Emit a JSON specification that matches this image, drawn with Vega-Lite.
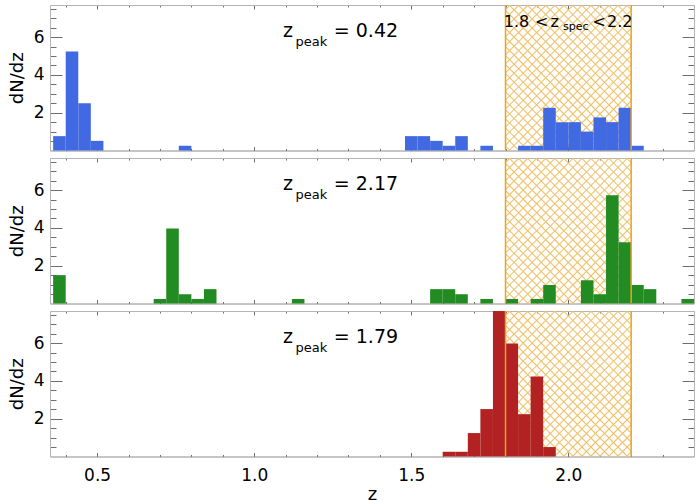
{
"$schema": "https://vega.github.io/schema/vega-lite/v6.json",
"padding": {"left": 8, "top": 4, "right": 5, "bottom": 0},
"background": "white",
"spacing": 7,
"bounds": "flush",
"config": {
 "view": {"stroke": null},
 "font": "DejaVu Sans",
 "axis": {"grid": false, "labelFont": "DejaVu Sans", "titleFont": "DejaVu Sans", "labelFontSize": 17, "titleFontSize": 18, "labelColor": "black", "titleColor": "black", "titleFontWeight": "normal", "domainColor": "#b4b4b4", "tickColor": "#6e6e6e", "labelFlush": false, "labelOverlap": false, "zindex": 1},
 "style": {
  "hatchA": {"color": {"gradient": "linear", "x1": 0, "y1": 0, "x2": 0.9219, "y2": 1.0675, "stops": [
{"offset":0.0112,"color":"#EFC06600"},{"offset":0.0167,"color":"#EFC066"},{"offset":0.0222,"color":"#EFC06600"},
{"offset":0.0445,"color":"#EFC06600"},{"offset":0.05,"color":"#EFC066"},{"offset":0.0555,"color":"#EFC06600"},
{"offset":0.0778,"color":"#EFC06600"},{"offset":0.0833,"color":"#EFC066"},{"offset":0.0888,"color":"#EFC06600"},
{"offset":0.1112,"color":"#EFC06600"},{"offset":0.1167,"color":"#EFC066"},{"offset":0.1222,"color":"#EFC06600"},
{"offset":0.1445,"color":"#EFC06600"},{"offset":0.15,"color":"#EFC066"},{"offset":0.1555,"color":"#EFC06600"},
{"offset":0.1778,"color":"#EFC06600"},{"offset":0.1833,"color":"#EFC066"},{"offset":0.1888,"color":"#EFC06600"},
{"offset":0.2112,"color":"#EFC06600"},{"offset":0.2167,"color":"#EFC066"},{"offset":0.2222,"color":"#EFC06600"},
{"offset":0.2445,"color":"#EFC06600"},{"offset":0.25,"color":"#EFC066"},{"offset":0.2555,"color":"#EFC06600"},
{"offset":0.2778,"color":"#EFC06600"},{"offset":0.2833,"color":"#EFC066"},{"offset":0.2888,"color":"#EFC06600"},
{"offset":0.3112,"color":"#EFC06600"},{"offset":0.3167,"color":"#EFC066"},{"offset":0.3222,"color":"#EFC06600"},
{"offset":0.3445,"color":"#EFC06600"},{"offset":0.35,"color":"#EFC066"},{"offset":0.3555,"color":"#EFC06600"},
{"offset":0.3778,"color":"#EFC06600"},{"offset":0.3833,"color":"#EFC066"},{"offset":0.3888,"color":"#EFC06600"},
{"offset":0.4112,"color":"#EFC06600"},{"offset":0.4167,"color":"#EFC066"},{"offset":0.4222,"color":"#EFC06600"},
{"offset":0.4445,"color":"#EFC06600"},{"offset":0.45,"color":"#EFC066"},{"offset":0.4555,"color":"#EFC06600"},
{"offset":0.4778,"color":"#EFC06600"},{"offset":0.4833,"color":"#EFC066"},{"offset":0.4888,"color":"#EFC06600"},
{"offset":0.5112,"color":"#EFC06600"},{"offset":0.5167,"color":"#EFC066"},{"offset":0.5222,"color":"#EFC06600"},
{"offset":0.5445,"color":"#EFC06600"},{"offset":0.55,"color":"#EFC066"},{"offset":0.5555,"color":"#EFC06600"},
{"offset":0.5778,"color":"#EFC06600"},{"offset":0.5833,"color":"#EFC066"},{"offset":0.5888,"color":"#EFC06600"},
{"offset":0.6112,"color":"#EFC06600"},{"offset":0.6167,"color":"#EFC066"},{"offset":0.6222,"color":"#EFC06600"},
{"offset":0.6445,"color":"#EFC06600"},{"offset":0.65,"color":"#EFC066"},{"offset":0.6555,"color":"#EFC06600"},
{"offset":0.6778,"color":"#EFC06600"},{"offset":0.6833,"color":"#EFC066"},{"offset":0.6888,"color":"#EFC06600"},
{"offset":0.7112,"color":"#EFC06600"},{"offset":0.7167,"color":"#EFC066"},{"offset":0.7222,"color":"#EFC06600"},
{"offset":0.7445,"color":"#EFC06600"},{"offset":0.75,"color":"#EFC066"},{"offset":0.7555,"color":"#EFC06600"},
{"offset":0.7778,"color":"#EFC06600"},{"offset":0.7833,"color":"#EFC066"},{"offset":0.7888,"color":"#EFC06600"},
{"offset":0.8112,"color":"#EFC06600"},{"offset":0.8167,"color":"#EFC066"},{"offset":0.8222,"color":"#EFC06600"},
{"offset":0.8445,"color":"#EFC06600"},{"offset":0.85,"color":"#EFC066"},{"offset":0.8555,"color":"#EFC06600"},
{"offset":0.8778,"color":"#EFC06600"},{"offset":0.8833,"color":"#EFC066"},{"offset":0.8888,"color":"#EFC06600"},
{"offset":0.9112,"color":"#EFC06600"},{"offset":0.9167,"color":"#EFC066"},{"offset":0.9222,"color":"#EFC06600"},
{"offset":0.9445,"color":"#EFC06600"},{"offset":0.95,"color":"#EFC066"},{"offset":0.9555,"color":"#EFC06600"},
{"offset":0.9778,"color":"#EFC06600"},{"offset":0.9833,"color":"#EFC066"},{"offset":0.9888,"color":"#EFC06600"}
  ]}},
  "hatchB": {"color": {"gradient": "linear", "x1": 1, "y1": 0, "x2": 0.0781, "y2": 1.0675, "stops": [
{"offset":0.0112,"color":"#EFC06600"},{"offset":0.0167,"color":"#EFC066"},{"offset":0.0222,"color":"#EFC06600"},
{"offset":0.0445,"color":"#EFC06600"},{"offset":0.05,"color":"#EFC066"},{"offset":0.0555,"color":"#EFC06600"},
{"offset":0.0778,"color":"#EFC06600"},{"offset":0.0833,"color":"#EFC066"},{"offset":0.0888,"color":"#EFC06600"},
{"offset":0.1112,"color":"#EFC06600"},{"offset":0.1167,"color":"#EFC066"},{"offset":0.1222,"color":"#EFC06600"},
{"offset":0.1445,"color":"#EFC06600"},{"offset":0.15,"color":"#EFC066"},{"offset":0.1555,"color":"#EFC06600"},
{"offset":0.1778,"color":"#EFC06600"},{"offset":0.1833,"color":"#EFC066"},{"offset":0.1888,"color":"#EFC06600"},
{"offset":0.2112,"color":"#EFC06600"},{"offset":0.2167,"color":"#EFC066"},{"offset":0.2222,"color":"#EFC06600"},
{"offset":0.2445,"color":"#EFC06600"},{"offset":0.25,"color":"#EFC066"},{"offset":0.2555,"color":"#EFC06600"},
{"offset":0.2778,"color":"#EFC06600"},{"offset":0.2833,"color":"#EFC066"},{"offset":0.2888,"color":"#EFC06600"},
{"offset":0.3112,"color":"#EFC06600"},{"offset":0.3167,"color":"#EFC066"},{"offset":0.3222,"color":"#EFC06600"},
{"offset":0.3445,"color":"#EFC06600"},{"offset":0.35,"color":"#EFC066"},{"offset":0.3555,"color":"#EFC06600"},
{"offset":0.3778,"color":"#EFC06600"},{"offset":0.3833,"color":"#EFC066"},{"offset":0.3888,"color":"#EFC06600"},
{"offset":0.4112,"color":"#EFC06600"},{"offset":0.4167,"color":"#EFC066"},{"offset":0.4222,"color":"#EFC06600"},
{"offset":0.4445,"color":"#EFC06600"},{"offset":0.45,"color":"#EFC066"},{"offset":0.4555,"color":"#EFC06600"},
{"offset":0.4778,"color":"#EFC06600"},{"offset":0.4833,"color":"#EFC066"},{"offset":0.4888,"color":"#EFC06600"},
{"offset":0.5112,"color":"#EFC06600"},{"offset":0.5167,"color":"#EFC066"},{"offset":0.5222,"color":"#EFC06600"},
{"offset":0.5445,"color":"#EFC06600"},{"offset":0.55,"color":"#EFC066"},{"offset":0.5555,"color":"#EFC06600"},
{"offset":0.5778,"color":"#EFC06600"},{"offset":0.5833,"color":"#EFC066"},{"offset":0.5888,"color":"#EFC06600"},
{"offset":0.6112,"color":"#EFC06600"},{"offset":0.6167,"color":"#EFC066"},{"offset":0.6222,"color":"#EFC06600"},
{"offset":0.6445,"color":"#EFC06600"},{"offset":0.65,"color":"#EFC066"},{"offset":0.6555,"color":"#EFC06600"},
{"offset":0.6778,"color":"#EFC06600"},{"offset":0.6833,"color":"#EFC066"},{"offset":0.6888,"color":"#EFC06600"},
{"offset":0.7112,"color":"#EFC06600"},{"offset":0.7167,"color":"#EFC066"},{"offset":0.7222,"color":"#EFC06600"},
{"offset":0.7445,"color":"#EFC06600"},{"offset":0.75,"color":"#EFC066"},{"offset":0.7555,"color":"#EFC06600"},
{"offset":0.7778,"color":"#EFC06600"},{"offset":0.7833,"color":"#EFC066"},{"offset":0.7888,"color":"#EFC06600"},
{"offset":0.8112,"color":"#EFC06600"},{"offset":0.8167,"color":"#EFC066"},{"offset":0.8222,"color":"#EFC06600"},
{"offset":0.8445,"color":"#EFC06600"},{"offset":0.85,"color":"#EFC066"},{"offset":0.8555,"color":"#EFC06600"},
{"offset":0.8778,"color":"#EFC06600"},{"offset":0.8833,"color":"#EFC066"},{"offset":0.8888,"color":"#EFC06600"},
{"offset":0.9112,"color":"#EFC06600"},{"offset":0.9167,"color":"#EFC066"},{"offset":0.9222,"color":"#EFC06600"},
{"offset":0.9445,"color":"#EFC06600"},{"offset":0.95,"color":"#EFC066"},{"offset":0.9555,"color":"#EFC06600"},
{"offset":0.9778,"color":"#EFC06600"},{"offset":0.9833,"color":"#EFC066"},{"offset":0.9888,"color":"#EFC06600"}
  ]}}
 }
},
"datasets": {
 "band": [{"lo": 1.8, "hi": 2.2}],
 "edges": [{"z": 1.8}, {"z": 2.2}],
 "p1": [
  {"z0":0.36,"z1":0.40,"dndz":0.76},{"z0":0.40,"z1":0.44,"dndz":5.24},{"z0":0.44,"z1":0.48,"dndz":2.50},{"z0":0.48,"z1":0.52,"dndz":0.51},
  {"z0":0.76,"z1":0.80,"dndz":0.25},{"z0":1.48,"z1":1.52,"dndz":0.76},{"z0":1.52,"z1":1.56,"dndz":0.76},{"z0":1.56,"z1":1.60,"dndz":0.51},
  {"z0":1.60,"z1":1.64,"dndz":0.25},{"z0":1.64,"z1":1.68,"dndz":0.76},{"z0":1.72,"z1":1.76,"dndz":0.25},{"z0":1.84,"z1":1.88,"dndz":0.25},
  {"z0":1.88,"z1":1.92,"dndz":0.25},{"z0":1.92,"z1":1.96,"dndz":2.26},{"z0":1.96,"z1":2.00,"dndz":1.50},{"z0":2.00,"z1":2.04,"dndz":1.50},
  {"z0":2.04,"z1":2.08,"dndz":1.00},{"z0":2.08,"z1":2.12,"dndz":1.75},{"z0":2.12,"z1":2.16,"dndz":1.50},{"z0":2.16,"z1":2.20,"dndz":2.26},
  {"z0":2.20,"z1":2.24,"dndz":0.25}
 ],
 "p2": [
  {"z0":0.36,"z1":0.40,"dndz":1.50},{"z0":0.68,"z1":0.72,"dndz":0.24},{"z0":0.72,"z1":0.76,"dndz":3.97},{"z0":0.76,"z1":0.80,"dndz":0.49},
  {"z0":0.80,"z1":0.84,"dndz":0.24},{"z0":0.84,"z1":0.88,"dndz":0.76},{"z0":1.12,"z1":1.16,"dndz":0.24},{"z0":1.56,"z1":1.60,"dndz":0.76},
  {"z0":1.60,"z1":1.64,"dndz":0.76},{"z0":1.64,"z1":1.68,"dndz":0.49},{"z0":1.72,"z1":1.76,"dndz":0.24},{"z0":1.80,"z1":1.84,"dndz":0.24},
  {"z0":1.88,"z1":1.92,"dndz":0.24},{"z0":1.92,"z1":1.96,"dndz":0.98},{"z0":2.04,"z1":2.08,"dndz":1.23},{"z0":2.08,"z1":2.12,"dndz":0.49},
  {"z0":2.12,"z1":2.16,"dndz":5.73},{"z0":2.16,"z1":2.20,"dndz":3.24},{"z0":2.20,"z1":2.24,"dndz":0.98},{"z0":2.24,"z1":2.28,"dndz":0.76},
  {"z0":2.36,"z1":2.40,"dndz":0.24}
 ],
 "p3": [
  {"z0":1.60,"z1":1.64,"dndz":0.25},{"z0":1.64,"z1":1.68,"dndz":0.25},{"z0":1.68,"z1":1.72,"dndz":1.24},{"z0":1.72,"z1":1.76,"dndz":2.51},
  {"z0":1.76,"z1":1.80,"dndz":7.7},{"z0":1.80,"z1":1.84,"dndz":5.98},{"z0":1.84,"z1":1.88,"dndz":2.24},{"z0":1.88,"z1":1.92,"dndz":4.23},
  {"z0":1.92,"z1":1.96,"dndz":0.50}
 ]
},
"vconcat": [
 {
  "width": 644, "height": 145.5,
  "resolve": {"axis": {"x": "independent", "y": "independent"}},
  "layer": [
   {"data": {"name": "band"}, "mark": {"type": "rect", "style": "hatchA"}, "encoding": {
     "x": {"field": "lo", "type": "quantitative", "scale": {"domain": [0.35, 2.4], "nice": false, "zero": false}, "axis": {"orient": "bottom", "values": [0.4,0.6,0.7,0.8,0.9,1.1,1.2,1.3,1.4,1.6,1.7,1.8,1.9,2.1,2.2,2.3,2.4], "labels": false, "domain": false, "title": null, "tickSize": -2}},
     "x2": {"field": "hi"},
     "y": {"datum": 0, "type": "quantitative", "scale": {"domain": [0, 7.7], "nice": false, "zero": false}, "axis": {"orient": "left", "values": [0.5,1,1.5,2.5,3,3.5,4.5,5,5.5,6.5,7,7.5], "labels": false, "domain": false, "title": null, "tickSize": -6}},
     "y2": {"datum": 7.7}}},
   {"data": {"name": "band"}, "mark": {"type": "rect", "style": "hatchB"}, "encoding": {
     "x": {"field": "lo", "type": "quantitative", "scale": {"domain": [0.35, 2.4], "nice": false, "zero": false}, "axis": {"orient": "top", "values": [0.4,0.6,0.7,0.8,0.9,1.1,1.2,1.3,1.4,1.6,1.7,1.8,1.9,2.1,2.2,2.3,2.4], "labels": false, "domain": false, "title": null, "tickSize": -2}},
     "x2": {"field": "hi"},
     "y": {"datum": 0, "type": "quantitative", "scale": {"domain": [0, 7.7], "nice": false, "zero": false}, "axis": {"orient": "right", "values": [0.5,1,1.5,2.5,3,3.5,4.5,5,5.5,6.5,7,7.5], "labels": false, "domain": false, "title": null, "tickSize": -6}},
     "y2": {"datum": 7.7}}},
   {"data": {"name": "p1"}, "mark": {"type": "rect", "color": "#4169E1"}, "encoding": {
     "x": {"field": "z0", "type": "quantitative", "scale": {"domain": [0.35, 2.4], "nice": false, "zero": false}, "axis": {"orient": "bottom", "values": [0.5,1.0,1.5,2.0], "labels": false, "title": null, "domainColor": "#8c8c8c", "tickSize": -4}},
     "x2": {"field": "z1"},
     "y": {"field": "dndz", "type": "quantitative", "scale": {"domain": [0, 7.7], "nice": false, "zero": false}, "axis": {"orient": "left", "values": [2,4,6], "format": "d", "labelPadding": 18, "title": "dN/dz", "titlePadding": 7, "tickSize": -12}},
     "y2": {"datum": 0}}},
   {"data": {"name": "edges"}, "mark": {"type": "rule", "color": "#EBA31E", "strokeWidth": 1.5}, "encoding": {
     "x": {"field": "z", "type": "quantitative", "scale": {"domain": [0.35, 2.4], "nice": false, "zero": false}, "axis": {"orient": "top", "values": [0.5,1.0,1.5,2.0], "labels": false, "title": null, "tickSize": -4}},
     "y": {"datum": 0, "type": "quantitative", "scale": {"domain": [0, 7.7], "nice": false, "zero": false}, "axis": {"orient": "right", "values": [2,4,6], "labels": false, "title": null, "tickSize": -12}},
     "y2": {"datum": 7.7}}},
   {"data": {"values": [{"t": "z"}]}, "mark": {"type": "text", "align": "left", "baseline": "alphabetic", "fontSize": 19, "color": "black"}, "encoding": {"x": {"datum": 1.092, "type": "quantitative", "axis": null}, "y": {"datum": 6.03, "type": "quantitative", "axis": null}, "text": {"field": "t"}}},
   {"data": {"values": [{"t": "peak"}]}, "mark": {"type": "text", "align": "left", "baseline": "alphabetic", "fontSize": 13, "dx": 12.5, "dy": 9, "color": "black"}, "encoding": {"x": {"datum": 1.092, "type": "quantitative", "axis": null}, "y": {"datum": 6.03, "type": "quantitative", "axis": null}, "text": {"field": "t"}}},
   {"data": {"values": [{"t": "= 0.42"}]}, "mark": {"type": "text", "align": "left", "baseline": "alphabetic", "fontSize": 19, "dx": 50.7, "color": "black"}, "encoding": {"x": {"datum": 1.092, "type": "quantitative", "axis": null}, "y": {"datum": 6.03, "type": "quantitative", "axis": null}, "text": {"field": "t"}}},
   {"data": {"values": [{"t": "1.8"}]}, "mark": {"type": "text", "align": "left", "baseline": "alphabetic", "fontSize": 16, "dx": -1.8, "color": "black"}, "encoding": {"x": {"datum": 1.8, "type": "quantitative", "axis": null}, "y": {"datum": 6.53, "type": "quantitative", "axis": null}, "text": {"field": "t"}}},
   {"data": {"values": [{"t": "<"}]}, "mark": {"type": "text", "align": "left", "baseline": "alphabetic", "fontSize": 16, "dx": 29.5, "color": "black"}, "encoding": {"x": {"datum": 1.8, "type": "quantitative", "axis": null}, "y": {"datum": 6.53, "type": "quantitative", "axis": null}, "text": {"field": "t"}}},
   {"data": {"values": [{"t": "z"}]}, "mark": {"type": "text", "align": "left", "baseline": "alphabetic", "fontSize": 16, "dx": 45, "color": "black"}, "encoding": {"x": {"datum": 1.8, "type": "quantitative", "axis": null}, "y": {"datum": 6.53, "type": "quantitative", "axis": null}, "text": {"field": "t"}}},
   {"data": {"values": [{"t": "spec"}]}, "mark": {"type": "text", "align": "left", "baseline": "alphabetic", "fontSize": 11, "dx": 57.5, "dy": 3, "color": "black"}, "encoding": {"x": {"datum": 1.8, "type": "quantitative", "axis": null}, "y": {"datum": 6.53, "type": "quantitative", "axis": null}, "text": {"field": "t"}}},
   {"data": {"values": [{"t": "<"}]}, "mark": {"type": "text", "align": "left", "baseline": "alphabetic", "fontSize": 16, "dx": 87, "color": "black"}, "encoding": {"x": {"datum": 1.8, "type": "quantitative", "axis": null}, "y": {"datum": 6.53, "type": "quantitative", "axis": null}, "text": {"field": "t"}}},
   {"data": {"values": [{"t": "2.2"}]}, "mark": {"type": "text", "align": "left", "baseline": "alphabetic", "fontSize": 16, "dx": 101.5, "color": "black"}, "encoding": {"x": {"datum": 1.8, "type": "quantitative", "axis": null}, "y": {"datum": 6.53, "type": "quantitative", "axis": null}, "text": {"field": "t"}}}
  ]
 },
 {
  "width": 644, "height": 145.5,
  "resolve": {"axis": {"x": "independent", "y": "independent"}},
  "layer": [
   {"data": {"name": "band"}, "mark": {"type": "rect", "style": "hatchA"}, "encoding": {
     "x": {"field": "lo", "type": "quantitative", "scale": {"domain": [0.35, 2.4], "nice": false, "zero": false}, "axis": {"orient": "bottom", "values": [0.4,0.6,0.7,0.8,0.9,1.1,1.2,1.3,1.4,1.6,1.7,1.8,1.9,2.1,2.2,2.3,2.4], "labels": false, "domain": false, "title": null, "tickSize": -2}},
     "x2": {"field": "hi"},
     "y": {"datum": 0, "type": "quantitative", "scale": {"domain": [0, 7.7], "nice": false, "zero": false}, "axis": {"orient": "left", "values": [0.5,1,1.5,2.5,3,3.5,4.5,5,5.5,6.5,7,7.5], "labels": false, "domain": false, "title": null, "tickSize": -6}},
     "y2": {"datum": 7.7}}},
   {"data": {"name": "band"}, "mark": {"type": "rect", "style": "hatchB"}, "encoding": {
     "x": {"field": "lo", "type": "quantitative", "scale": {"domain": [0.35, 2.4], "nice": false, "zero": false}, "axis": {"orient": "top", "values": [0.4,0.6,0.7,0.8,0.9,1.1,1.2,1.3,1.4,1.6,1.7,1.8,1.9,2.1,2.2,2.3,2.4], "labels": false, "domain": false, "title": null, "tickSize": -2}},
     "x2": {"field": "hi"},
     "y": {"datum": 0, "type": "quantitative", "scale": {"domain": [0, 7.7], "nice": false, "zero": false}, "axis": {"orient": "right", "values": [0.5,1,1.5,2.5,3,3.5,4.5,5,5.5,6.5,7,7.5], "labels": false, "domain": false, "title": null, "tickSize": -6}},
     "y2": {"datum": 7.7}}},
   {"data": {"name": "p2"}, "mark": {"type": "rect", "color": "#228B22"}, "encoding": {
     "x": {"field": "z0", "type": "quantitative", "scale": {"domain": [0.35, 2.4], "nice": false, "zero": false}, "axis": {"orient": "bottom", "values": [0.5,1.0,1.5,2.0], "labels": false, "title": null, "domainColor": "#8c8c8c", "tickSize": -4}},
     "x2": {"field": "z1"},
     "y": {"field": "dndz", "type": "quantitative", "scale": {"domain": [0, 7.7], "nice": false, "zero": false}, "axis": {"orient": "left", "values": [2,4,6], "format": "d", "labelPadding": 18, "title": "dN/dz", "titlePadding": 7, "tickSize": -12}},
     "y2": {"datum": 0}}},
   {"data": {"name": "edges"}, "mark": {"type": "rule", "color": "#EBA31E", "strokeWidth": 1.5}, "encoding": {
     "x": {"field": "z", "type": "quantitative", "scale": {"domain": [0.35, 2.4], "nice": false, "zero": false}, "axis": {"orient": "top", "values": [0.5,1.0,1.5,2.0], "labels": false, "title": null, "tickSize": -4}},
     "y": {"datum": 0, "type": "quantitative", "scale": {"domain": [0, 7.7], "nice": false, "zero": false}, "axis": {"orient": "right", "values": [2,4,6], "labels": false, "title": null, "tickSize": -12}},
     "y2": {"datum": 7.7}}},
   {"data": {"values": [{"t": "z"}]}, "mark": {"type": "text", "align": "left", "baseline": "alphabetic", "fontSize": 19, "color": "black"}, "encoding": {"x": {"datum": 1.092, "type": "quantitative", "axis": null}, "y": {"datum": 6.03, "type": "quantitative", "axis": null}, "text": {"field": "t"}}},
   {"data": {"values": [{"t": "peak"}]}, "mark": {"type": "text", "align": "left", "baseline": "alphabetic", "fontSize": 13, "dx": 12.5, "dy": 9, "color": "black"}, "encoding": {"x": {"datum": 1.092, "type": "quantitative", "axis": null}, "y": {"datum": 6.03, "type": "quantitative", "axis": null}, "text": {"field": "t"}}},
   {"data": {"values": [{"t": "= 2.17"}]}, "mark": {"type": "text", "align": "left", "baseline": "alphabetic", "fontSize": 19, "dx": 50.7, "color": "black"}, "encoding": {"x": {"datum": 1.092, "type": "quantitative", "axis": null}, "y": {"datum": 6.03, "type": "quantitative", "axis": null}, "text": {"field": "t"}}}
  ]
 },
 {
  "width": 644, "height": 145.5,
  "resolve": {"axis": {"x": "independent", "y": "independent"}},
  "layer": [
   {"data": {"name": "band"}, "mark": {"type": "rect", "style": "hatchA"}, "encoding": {
     "x": {"field": "lo", "type": "quantitative", "scale": {"domain": [0.35, 2.4], "nice": false, "zero": false}, "axis": {"orient": "bottom", "values": [0.4,0.6,0.7,0.8,0.9,1.1,1.2,1.3,1.4,1.6,1.7,1.8,1.9,2.1,2.2,2.3,2.4], "labels": false, "domain": false, "title": null, "tickSize": -2}},
     "x2": {"field": "hi"},
     "y": {"datum": 0, "type": "quantitative", "scale": {"domain": [0, 7.7], "nice": false, "zero": false}, "axis": {"orient": "left", "values": [0.5,1,1.5,2.5,3,3.5,4.5,5,5.5,6.5,7,7.5], "labels": false, "domain": false, "title": null, "tickSize": -6}},
     "y2": {"datum": 7.7}}},
   {"data": {"name": "band"}, "mark": {"type": "rect", "style": "hatchB"}, "encoding": {
     "x": {"field": "lo", "type": "quantitative", "scale": {"domain": [0.35, 2.4], "nice": false, "zero": false}, "axis": {"orient": "top", "values": [0.4,0.6,0.7,0.8,0.9,1.1,1.2,1.3,1.4,1.6,1.7,1.8,1.9,2.1,2.2,2.3,2.4], "labels": false, "domain": false, "title": null, "tickSize": -2}},
     "x2": {"field": "hi"},
     "y": {"datum": 0, "type": "quantitative", "scale": {"domain": [0, 7.7], "nice": false, "zero": false}, "axis": {"orient": "right", "values": [0.5,1,1.5,2.5,3,3.5,4.5,5,5.5,6.5,7,7.5], "labels": false, "domain": false, "title": null, "tickSize": -6}},
     "y2": {"datum": 7.7}}},
   {"data": {"name": "p3"}, "mark": {"type": "rect", "color": "#B22222"}, "encoding": {
     "x": {"field": "z0", "type": "quantitative", "scale": {"domain": [0.35, 2.4], "nice": false, "zero": false}, "axis": {"orient": "bottom", "values": [0.5,1.0,1.5,2.0], "format": ".1f", "labelPadding": 15, "title": "z", "titlePadding": 2, "domainColor": "#8c8c8c", "tickSize": -4}},
     "x2": {"field": "z1"},
     "y": {"field": "dndz", "type": "quantitative", "scale": {"domain": [0, 7.7], "nice": false, "zero": false}, "axis": {"orient": "left", "values": [2,4,6], "format": "d", "labelPadding": 18, "title": "dN/dz", "titlePadding": 7, "tickSize": -12}},
     "y2": {"datum": 0}}},
   {"data": {"name": "edges"}, "mark": {"type": "rule", "color": "#EBA31E", "strokeWidth": 1.5}, "encoding": {
     "x": {"field": "z", "type": "quantitative", "scale": {"domain": [0.35, 2.4], "nice": false, "zero": false}, "axis": {"orient": "top", "values": [0.5,1.0,1.5,2.0], "labels": false, "title": null, "tickSize": -4}},
     "y": {"datum": 0, "type": "quantitative", "scale": {"domain": [0, 7.7], "nice": false, "zero": false}, "axis": {"orient": "right", "values": [2,4,6], "labels": false, "title": null, "tickSize": -12}},
     "y2": {"datum": 7.7}}},
   {"data": {"values": [{"t": "z"}]}, "mark": {"type": "text", "align": "left", "baseline": "alphabetic", "fontSize": 19, "color": "black"}, "encoding": {"x": {"datum": 1.092, "type": "quantitative", "axis": null}, "y": {"datum": 6.03, "type": "quantitative", "axis": null}, "text": {"field": "t"}}},
   {"data": {"values": [{"t": "peak"}]}, "mark": {"type": "text", "align": "left", "baseline": "alphabetic", "fontSize": 13, "dx": 12.5, "dy": 9, "color": "black"}, "encoding": {"x": {"datum": 1.092, "type": "quantitative", "axis": null}, "y": {"datum": 6.03, "type": "quantitative", "axis": null}, "text": {"field": "t"}}},
   {"data": {"values": [{"t": "= 1.79"}]}, "mark": {"type": "text", "align": "left", "baseline": "alphabetic", "fontSize": 19, "dx": 50.7, "color": "black"}, "encoding": {"x": {"datum": 1.092, "type": "quantitative", "axis": null}, "y": {"datum": 6.03, "type": "quantitative", "axis": null}, "text": {"field": "t"}}}
  ]
 }
]
}
